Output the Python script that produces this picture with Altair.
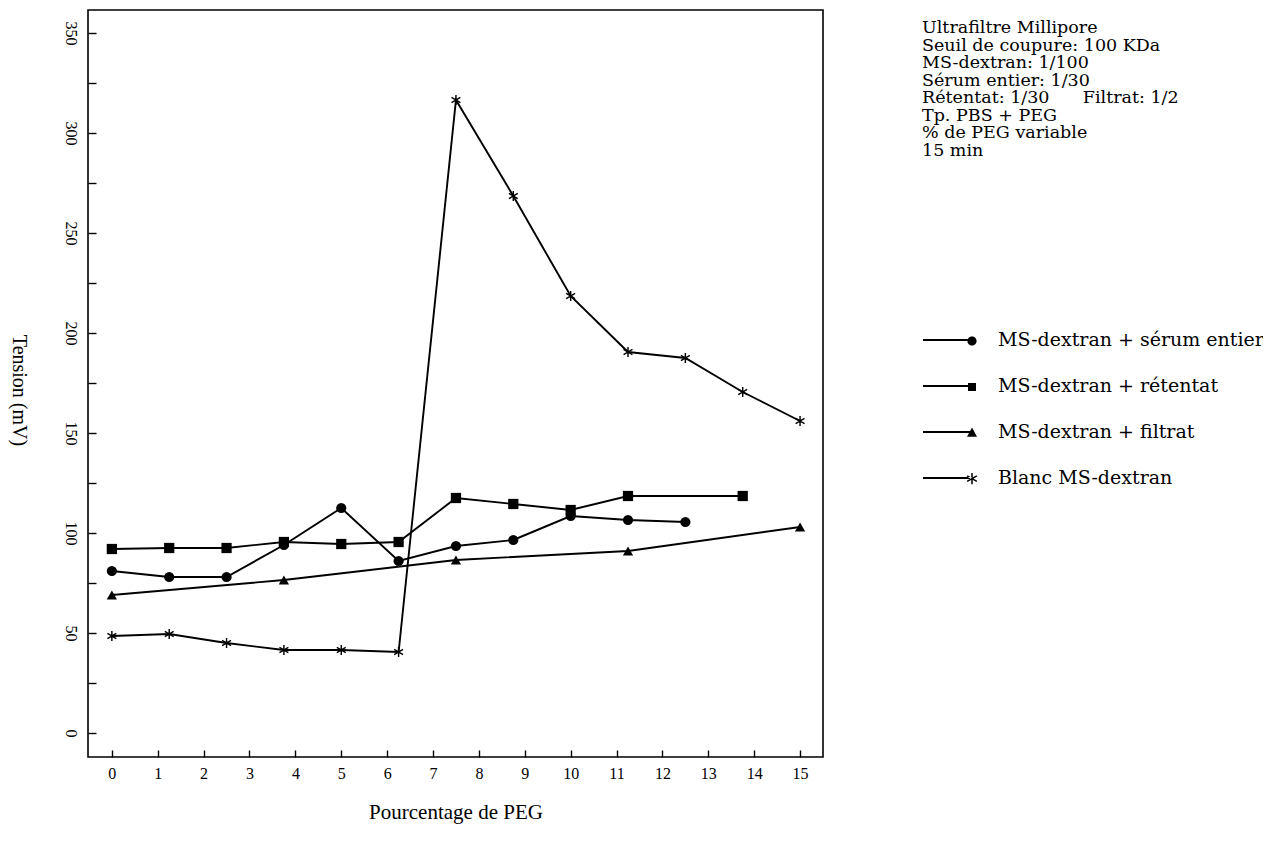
import math
import altair as alt
import pandas as pd

# ---------------- data ----------------
SERIES = [
    "MS-dextran + sérum entier",
    "MS-dextran + rétentat",
    "MS-dextran + filtrat",
    "Blanc MS-dextran",
]
SERUM_X = [0, 1.25, 2.5, 3.75, 5, 6.25, 7.5, 8.75, 10, 11.25, 12.5]
SERUM_Y = [81, 78, 78, 94, 112.5, 86, 93.5, 96.5, 108.5, 106.5, 105.5]
RET_X = [0, 1.25, 2.5, 3.75, 5, 6.25, 7.5, 8.75, 10, 11.25, 13.75]
RET_Y = [92, 92.5, 92.5, 95.5, 94.5, 95.5, 117.5, 114.5, 111.5, 118.5, 118.5]
FIL_X = [0, 3.75, 7.5, 11.25, 15]
FIL_Y = [69, 76.5, 86.5, 91, 103]
BLANC_X = [0, 1.25, 2.5, 3.75, 5, 6.25, 7.5, 8.75, 10, 11.25, 12.5, 13.75, 15]
BLANC_Y = [48.5, 49.5, 45, 41.5, 41.5, 40.5, 316.5, 268.5, 218.5, 190.5, 187.5, 170.5, 156]

X_TICKS = [0, 0.5, 1, 1.5, 2, 2.5, 3, 3.5, 4, 4.5, 5, 5.5, 6, 6.5, 7, 7.5,
           8, 8.5, 9, 9.5, 10, 10.5, 11, 11.5, 12, 12.5, 13, 13.5, 14, 14.5, 15]
Y_TICKS = [0, 25, 50, 75, 100, 125, 150, 175, 200, 225, 250, 275, 300, 325, 350]

X_TITLE = "Pourcentage de PEG"
Y_TITLE = "Tension (mV)"
NOTE_LINES = [
    "Ultrafiltre Millipore",
    "Seuil de coupure: 100 KDa",
    "MS-dextran: 1/100",
    "Sérum entier: 1/30",
    "Rétentat: 1/30" + "\u00a0" * 6 + "Filtrat: 1/2",
    "Tp. PBS + PEG",
    "% de PEG variable",
    "15 min",
]

FONT = "Liberation Serif"
SIDE_FONT = "DejaVu Serif"

# ---------------- table ----------------
rows = []
for name, xs, ys in zip(SERIES, [SERUM_X, RET_X, FIL_X, BLANC_X], [SERUM_Y, RET_Y, FIL_Y, BLANC_Y]):
    for xv, yv in zip(xs, ys):
        rows.append({"series": name, "x": xv, "y": yv})
df = pd.DataFrame(rows)


# ---------------- marker shapes (style) ----------------
def rect_path(cx, cy, ang_deg, half_len, half_w):
    a = math.radians(ang_deg)
    dx, dy = math.cos(a), math.sin(a)
    nx, ny = -dy, dx
    pts = [
        (cx + dx * half_len + nx * half_w, cy + dy * half_len + ny * half_w),
        (cx + dx * half_len - nx * half_w, cy + dy * half_len - ny * half_w),
        (cx - dx * half_len - nx * half_w, cy - dy * half_len - ny * half_w),
        (cx - dx * half_len + nx * half_w, cy - dy * half_len + ny * half_w),
    ]
    return "M" + " L".join(f"{px:.3f},{py:.3f}" for px, py in pts) + " Z"


def star_path(cx, cy, half_len, half_w):
    return " ".join(rect_path(cx, cy, ang, half_len, half_w) for ang in (90, 30, -30))


STAR = star_path(0, 0, 1.0, 0.14)

# legend symbols: line segment + marker at the right end (units of 20px)
LINE = "M-1.85,-0.045 L0.6,-0.045 L0.6,0.045 L-1.85,0.045 Z"
LEG_CIRCLE = LINE + " M0.83,0.05 A0.23,0.23 0 1,1 0.37,0.05 A0.23,0.23 0 1,1 0.83,0.05 Z"
LEG_SQUARE = LINE + " M0.4,-0.15 L0.8,-0.15 L0.8,0.25 L0.4,0.25 Z"
LEG_TRI = LINE + " M0.6,-0.22 L0.85,0.24 L0.35,0.24 Z"
LEG_STAR = LINE + " " + star_path(0.6, 0.03, 0.28, 0.038)
LEGEND_PATHS = [LEG_CIRCLE, LEG_SQUARE, LEG_TRI, LEG_STAR]
PLOT_SHAPES = ["circle", "square", "triangle-up", STAR]

# ---------------- encodings ----------------
x_enc = alt.X(
    "x:Q",
    scale=alt.Scale(domain=[-0.52, 15.5], nice=False, zero=False),
    axis=alt.Axis(
        values=X_TICKS,
        labelExpr="datum.value % 1 == 0 ? format(datum.value, 'd') : ''",
        domain=False, grid=False, offset=-7, tickSize=7, tickWidth=1.4,
        labelPadding=8, labelBaseline="top", labelFontSize=16,
        labelOverlap=False, labelFlush=False,
        title=X_TITLE, titleFontSize=21, titleX=367.5, titleY=62,
        titleBaseline="middle", titleAlign="center",
    ),
)
y_enc = alt.Y(
    "y:Q",
    scale=alt.Scale(domain=[-12, 361.5], nice=False, zero=False),
    axis=alt.Axis(
        values=Y_TICKS,
        labelExpr="datum.value % 50 == 0 ? format(datum.value, 'd') : ''",
        domain=False, grid=False, offset=-8, tickSize=8, tickWidth=1.4,
        labelPadding=18, labelAngle=90, labelAlign="center", labelBaseline="middle",
        labelFontSize=16, labelOverlap=False, labelFlush=False,
        title=Y_TITLE, titleFontSize=20, titleAngle=90, titleX=-78, titleY=380,
        titleBaseline="middle", titleAlign="center",
    ),
)

base = alt.Chart(df)

lines = base.mark_line(color="black", strokeWidth=1.9).encode(
    x=x_enc, y=y_enc, detail="series:N", order="x:Q"
)

points = base.mark_point(filled=True, color="black", opacity=1, size=105).encode(
    x="x:Q", y="y:Q",
    shape=alt.Shape("series:N", scale=alt.Scale(domain=SERIES, range=PLOT_SHAPES), legend=None),
)

legend_layer = base.transform_filter("false").mark_point(
    filled=True, color="black", opacity=1
).encode(
    x="x:Q", y="y:Q",
    shape=alt.Shape(
        "series:N",
        scale=alt.Scale(domain=SERIES, range=LEGEND_PATHS),
        legend=alt.Legend(
            title=None, orient="none", legendX=852, legendY=310, padding=0,
            symbolSize=1600, rowPadding=16, labelOffset=18,
            labelFont=SIDE_FONT, labelFontSize=19, labelColor="black", labelLimit=500,
            symbolFillColor="black", symbolStrokeWidth=0, symbolOpacity=1,
        ),
    ),
)

note = alt.Chart(pd.DataFrame({"k": [0]})).mark_text(
    text=NOTE_LINES, align="left", baseline="top", font=SIDE_FONT, fontSize=17.5,
    lineHeight=17.5, color="black",
).encode(x=alt.value(834), y=alt.value(9))

chart = (
    alt.layer(lines, points, legend_layer, note)
    .resolve_scale(shape="independent")
    .properties(
        width=735, height=747, autosize="none",
        padding={"left": 80, "top": 2, "right": 440, "bottom": 80},
        background="white",
    )
    .configure_view(stroke="black", strokeWidth=1.6)
    .configure_axis(
        labelFont=FONT, titleFont=FONT, labelColor="black", titleColor="black",
        titleFontWeight="normal", tickColor="black",
    )
)

chart.save("out.html", embed_options={"renderer": "svg", "actions": False})
